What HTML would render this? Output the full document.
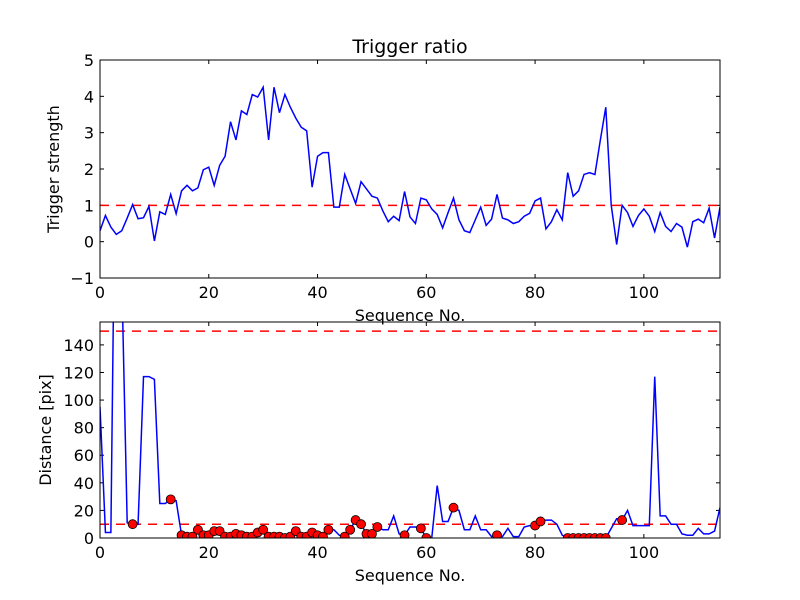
<!DOCTYPE html>
<html><head><meta charset="utf-8"><style>
body{margin:0;background:#fff}
svg{display:block;font-family:"DejaVu Sans","Liberation Sans",sans-serif}
</style></head><body>
<svg id="fig" width="800" height="600" viewBox="0 0 800 600">
<rect width="800" height="600" fill="#fff"/>
<g id="top"></g>
<g id="bot"></g>
</svg>
<script>
const ratioValues=[0.3,0.72,0.4,0.2,0.3,0.65,1.02,0.63,0.66,0.97,0.02,0.82,0.75,1.3,0.77,1.4,1.55,1.4,1.48,1.98,2.05,1.55,2.1,2.35,3.3,2.8,3.6,3.5,4.05,3.98,4.25,2.8,4.25,3.55,4.05,3.7,3.4,3.15,3.05,1.5,2.35,2.45,2.45,0.95,0.95,1.85,1.45,1.05,1.65,1.45,1.25,1.2,0.85,0.55,0.7,0.58,1.38,0.68,0.5,1.2,1.15,0.9,0.75,0.38,0.8,1.2,0.6,0.3,0.25,0.6,0.95,0.45,0.62,1.3,0.65,0.6,0.5,0.55,0.7,0.78,1.12,1.2,0.35,0.55,0.88,0.6,1.9,1.25,1.4,1.85,1.9,1.85,2.8,3.7,1.0,-0.08,1.0,0.8,0.42,0.72,0.9,0.7,0.28,0.8,0.42,0.28,0.5,0.4,-0.15,0.55,0.62,0.52,0.92,0.1,0.95];
const distValues=[95,4,4,350,190,11,10,10,117,117,115,25,25,28,27,2,1,1,6,2,2,5,5,1,1,3,2,1,1,4,6,1,1,1,0,1,5,1,1,4,2,1,6,6,2,1,6,13,10,3,3,8,6,6,16,3,2,8,8,7,0,0,38,12,12,22,20,6,6,16,6,6,1,2,1,7,1,1,8,9,9,12,13,13,10,2,0,0,0,0,0,0,0,0,7,14,13,20,9,9,9,9,117,16,16,10,10,3,2,2,7,3,3,5,22];
const dotIndices=[6,13,15,16,17,18,19,20,21,22,23,24,25,26,27,28,29,30,31,32,33,34,35,36,37,38,39,40,41,42,45,46,47,48,49,50,51,56,59,60,65,73,80,81,86,87,88,89,90,91,92,93,96];
const xTicks=[0,20,40,60,80,100];
const topYTicks=[-1,0,1,2,3,4,5];
const botYTicks=[0,20,40,60,80,100,120,140];
const topThreshold=[1];
const botThresholds=[10,150];

const NS="http://www.w3.org/2000/svg";
function mk(p,t,a,txt){const e=document.createElementNS(NS,t);for(const k in a)e.setAttribute(k,a[k]);if(txt!==undefined)e.textContent=txt;p.appendChild(e);return e;}
const X0=100,X1=720,XMAX=114;
const xs=v=>X0+v/XMAX*(X1-X0);

function axes(g,top,bottom,ymin,ymax,yticks,ylabel,xlab){
  const ys=v=>bottom-(v-ymin)/(ymax-ymin)*(bottom-top);
  const clip=mk(g,"clipPath",{id:"c"+top});mk(clip,"rect",{x:X0,y:top,width:X1-X0,height:bottom-top});
  xTicks.forEach(t=>{
    const x=xs(t);
    let e=mk(g,"line",{x1:x,x2:x,y1:bottom,y2:bottom-4,stroke:"#000"});
    
    mk(g,"line",{x1:x,x2:x,y1:top,y2:top+4,stroke:"#000"});
    e=mk(g,"text",{x:x,y:bottom+20,"text-anchor":"middle","font-size":16},String(t));
    
  });
  yticks.forEach(t=>{
    const y=ys(t);
    let e=mk(g,"line",{x1:X0,x2:X0+4,y1:y,y2:y,stroke:"#000"});
    
    mk(g,"line",{x1:X1,x2:X1-4,y1:y,y2:y,stroke:"#000"});
    e=mk(g,"text",{x:X0-6,y:y+6,"text-anchor":"end","font-size":16},(t<0?"\u2212"+(-t):String(t)));
    
  });
  let e=mk(g,"text",{x:410,y:bottom+43,"text-anchor":"middle","font-size":16},xlab);
  
  e=mk(g,"text",{x:0,y:0,"text-anchor":"middle","font-size":16,transform:`translate(${ylabel[1]},${(top+bottom)/2}) rotate(-90)`},ylabel[0]);
  
  return ys;
}
function frame(g,top,bottom){const e=mk(g,"rect",{x:X0,y:top,width:X1-X0,height:bottom-top,fill:"none",stroke:"#000","stroke-width":1});
}

// top chart
const gt=document.getElementById("top");
let e=mk(gt,"text",{x:410,y:53,"text-anchor":"middle","font-size":19},"Trigger ratio");

const ysT=axes(gt,60,278,-1,5,topYTicks,["Trigger strength",59],"Sequence No.");
topThreshold.forEach(v=>{const l=mk(gt,"line",{x1:X0,x2:X1,y1:ysT(v),y2:ysT(v),stroke:"#f00","stroke-width":1.5,"stroke-dasharray":"9,7"});
});
e=mk(gt,"polyline",{points:ratioValues.map((v,i)=>xs(i)+","+ysT(v)).join(" "),fill:"none",stroke:"#00f","stroke-width":1.5,"clip-path":"url(#c60)"});

frame(gt,60,278);

// bottom chart
const gb=document.getElementById("bot");
const ysB=axes(gb,322,538,0,156.6,botYTicks,["Distance [pix]",51],"Sequence No.");
botThresholds.forEach(v=>{const l=mk(gb,"line",{x1:X0,x2:X1,y1:ysB(v),y2:ysB(v),stroke:"#f00","stroke-width":1.5,"stroke-dasharray":"9,7"});
});
e=mk(gb,"polyline",{points:distValues.map((v,i)=>xs(i)+","+ysB(v)).join(" "),fill:"none",stroke:"#00f","stroke-width":1.5,"clip-path":"url(#c322)"});

const gd=mk(gb,"g",{"clip-path":"url(#c322)"});
dotIndices.forEach(i=>{const c=mk(gd,"circle",{cx:xs(i),cy:ysB(distValues[i]),r:4.5,fill:"#f00",stroke:"#000","stroke-width":0.8});
});
frame(gb,322,538);
</script>
</body></html>
